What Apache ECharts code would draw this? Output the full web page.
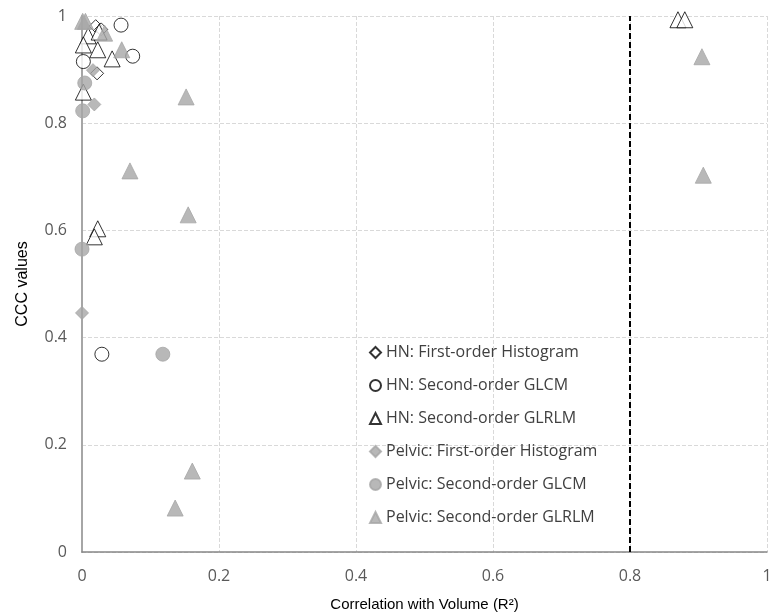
<!DOCTYPE html>
<html>
<head>
<meta charset="utf-8">
<script src="https://cdn.jsdelivr.net/npm/echarts@6/dist/echarts.min.js"></script>
<style>
  html, body { margin: 0; padding: 0; background: #fff; }
  #main { width: 769px; height: 612px; }
</style>
</head>
<body>
<div id="main"></div>
<script>
// [R² with volume, CCC]
var hnHistogram = [[0.020, 0.981], [0.028, 0.975], [0.022, 0.893]];
var hnGlcm = [[0.057, 0.983], [0.074, 0.925], [0.002, 0.915], [0.029, 0.369]];
var hnGlrlm = [
  [0.009, 0.963], [0.025, 0.970], [0.002, 0.946], [0.023, 0.937], [0.044, 0.920],
  [0.002, 0.858], [0.023, 0.603], [0.018, 0.588], [0.870, 0.993], [0.880, 0.993]
];
var pelvicHistogram = [[0.016, 0.899], [0.018, 0.835], [0.000, 0.446]];
var pelvicGlcm = [[0.004, 0.875], [0.001, 0.823], [0.000, 0.565], [0.118, 0.369]];
var pelvicGlrlm = [
  [0.001, 0.990], [0.005, 0.990], [0.033, 0.968], [0.058, 0.937], [0.152, 0.849],
  [0.070, 0.711], [0.155, 0.629], [0.161, 0.151], [0.136, 0.082],
  [0.905, 0.924], [0.907, 0.703]
];
var volumeCutoff = 0.8;
var names = [
  'HN: First-order Histogram',
  'HN: Second-order GLCM',
  'HN: Second-order GLRLM',
  'Pelvic: First-order Histogram',
  'Pelvic: Second-order GLCM',
  'Pelvic: Second-order GLRLM'
];

var openStyle = { color: '#ffffff', borderColor: '#000000', borderWidth: 1 };
var fillStyle = { color: '#a6a6a6', borderColor: '#a6a6a6', borderWidth: 1 };

function sc(name, data, symbol, size, style) {
  return { name: name, type: 'scatter', data: data, symbol: symbol, symbolSize: size, itemStyle: style };
}

var myChart = echarts.init(document.getElementById('main'));
myChart.setOption({
  animation: false,
  grid: { left: 82, right: 2, top: 16, bottom: 60, outerBoundsMode: 'none' },
  legend: {
    data: names,
    orient: 'vertical',
    left: 364,
    top: 339,
    itemGap: 16,
    itemWidth: 11,
    itemHeight: 11,
    textStyle: { fontFamily: 'Open Sans', fontSize: 16, lineHeight: 17, color: '#404040' }
  },
  xAxis: {
    type: 'value', min: 0, max: 1, interval: 0.2,
    name: 'Correlation with Volume (R²)',
    nameLocation: 'middle', nameGap: 45,
    nameTextStyle: { fontFamily: 'Liberation Sans', fontSize: 15, color: '#000' },
    axisLine: { onZero: false, lineStyle: { color: '#868686', width: 1.5 } },
    axisTick: { show: false },
    axisLabel: { fontFamily: 'Open Sans', fontSize: 16, color: '#595959', margin: 16 },
    splitLine: { lineStyle: { type: 'dashed', color: '#d9d9d9' } }
  },
  yAxis: {
    type: 'value', min: 0, max: 1, interval: 0.2,
    name: 'CCC values',
    nameLocation: 'middle', nameGap: 51,
    nameTextStyle: { fontFamily: 'Liberation Sans', fontSize: 16, color: '#000' },
    axisLine: { show: true, onZero: false, lineStyle: { color: '#a6a6a6', width: 2 } },
    axisTick: { show: false },
    axisLabel: { fontFamily: 'Open Sans', fontSize: 16, color: '#595959', margin: 15 },
    splitLine: { lineStyle: { type: 'dashed', color: '#d9d9d9' } }
  },
  series: [
    sc(names[0], hnHistogram, 'diamond', 13, openStyle),
    sc(names[1], hnGlcm, 'circle', 14, openStyle),
    sc(names[2], hnGlrlm, 'triangle', 16, openStyle),
    sc(names[3], pelvicHistogram, 'diamond', 13, fillStyle),
    sc(names[4], pelvicGlcm, 'circle', 14, fillStyle),
    sc(names[5], pelvicGlrlm, 'triangle', 16, fillStyle),
    {
      name: 'cutoff', type: 'line', data: [],
      markLine: {
        silent: true, symbol: 'none', label: { show: false },
        lineStyle: { type: [6, 3], color: '#000', width: 2 },
        data: [{ xAxis: volumeCutoff }]
      }
    }
  ]
});
</script>
</body>
</html>
